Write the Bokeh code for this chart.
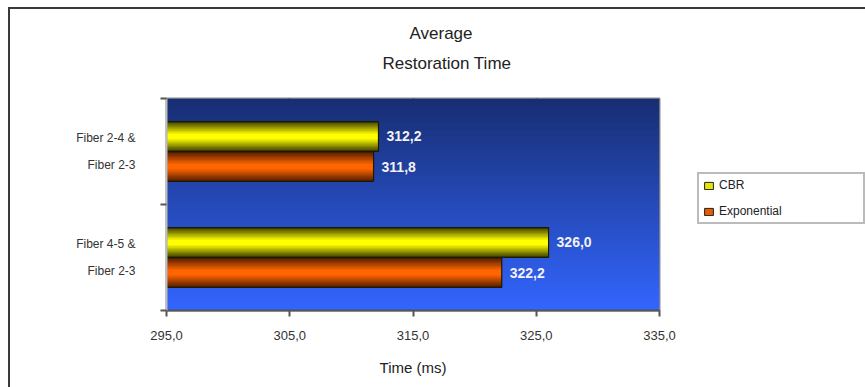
import numpy as np
from bokeh.plotting import figure
from bokeh.models import FixedTicker, Legend, LegendItem, Title, ColumnDataSource
from bokeh.core.properties import value
from bokeh.embed import file_html
from bokeh.resources import INLINE

# --- data -------------------------------------------------------------
categories = ["Fiber 2-4 &\nFiber 2-3", "Fiber 4-5 &\nFiber 2-3"]
cbr = [312.2, 326.0]
exponential = [311.8, 322.2]
x_ticks = [295, 305, 315, 325, 335]
series_names = ["CBR", "Exponential"]

FONT = "Liberation Sans"
X0, X1 = 295, 335

p = figure(frame_width=493, frame_height=212,
           output_backend="svg", toolbar_location=None,
           x_range=(X0, X1), y_range=(0, 2),
           min_border_left=166, min_border_right=206,
           min_border_top=98, min_border_bottom=77,
           background_fill_color="white", border_fill_color=None)
p.outline_line_color = "#8c8c8c"
p.outline_line_width = 2

# outer frame rule along the top and left edges, painted behind the canvas
RULE = "linear-gradient(#3a3a3a, #3a3a3a)"
p.styles = {
    "background": (f"{RULE} 8px 7px / 100% 2px no-repeat, "
                   f"{RULE} 8px 7px / 2px 100% no-repeat, white"),
    "overflow": "hidden",
}

# vertical blue gradient behind the bars
n = 200
t = np.linspace(0, 1, n)[:, None]  # 0 = bottom, 1 = top
bottom_c = np.array([51, 102, 255])
top_c = np.array([24, 46, 115])
rgb = (bottom_c * (1 - t) + top_c * t).astype(np.uint32)
img = np.empty((n, 1), dtype=np.uint32)
view = img.view(dtype=np.uint8).reshape((n, 1, 4))
view[:, :, 0] = rgb[:, 0:1]
view[:, :, 1] = rgb[:, 1:2]
view[:, :, 2] = rgb[:, 2:3]
view[:, :, 3] = 255
p.image_rgba(image=[img], x=X0, y=0, dw=X1 - X0, dh=2)

# grid
p.xgrid.ticker = FixedTicker(ticks=x_ticks)
p.xgrid.grid_line_color = "#0e1a45"
p.xgrid.grid_line_width = 2
p.ygrid.grid_line_color = None

# category positions (top category first)
n_cat = len(categories)
centers = [n_cat - i - 0.5 for i in range(n_cat)]
bar_h = 0.28
off = 0.142


def shaded_bars(vals, ys, edge, mid):
    """Cylinder-like bars: nested strips, darker toward the edges."""
    edge = np.array(edge, float)
    mid = np.array(mid, float)
    steps = 10
    for k in range(steps):
        f = k / (steps - 1)
        c = edge * (1 - f) + mid * f
        col = "#%02x%02x%02x" % tuple(int(round(v)) for v in c)
        h = bar_h * (1 - 0.9 * k / steps)
        p.hbar(y=ys, left=X0, right=vals, height=h, fill_color=col,
               line_color=None)
    p.hbar(y=ys, left=X0, right=vals, height=bar_h, fill_color=None,
           line_color="#1a1a00", line_width=1.2)


y_cbr = [c + off for c in centers]
y_exp = [c - off for c in centers]
shaded_bars(cbr, y_cbr, (70, 70, 0), (255, 255, 0))
shaded_bars(exponential, y_exp, (90, 30, 0), (255, 102, 0))

# legend swatches (flat colour with a dark edge)
r_cbr = p.hbar(y=[0], left=X0, right=X0, height=0, fill_color="#e6e600",
               line_color="#222222")
r_exp = p.hbar(y=[0], left=X0, right=X0, height=0, fill_color="#e65c00",
               line_color="#222222")


def fmt(v):
    return f"{v:.1f}".replace(".", ",")


# value labels
lab = ColumnDataSource(dict(
    x=cbr + exponential,
    y=y_cbr + y_exp,
    t=[fmt(v) for v in cbr + exponential],
))
p.text(x="x", y="y", text="t", source=lab, x_offset=8,
       text_color="#f2f2f2", text_font=value(FONT), text_font_size="14px",
       text_font_style="bold", text_baseline="middle", text_align="left")

# x axis
p.xaxis.ticker = FixedTicker(ticks=x_ticks)
p.xaxis.major_label_overrides = {v: fmt(v) for v in x_ticks}
p.xaxis.axis_label = "Time (ms)"
p.xaxis.axis_label_text_font = FONT
p.xaxis.axis_label_text_font_style = "normal"
p.xaxis.axis_label_text_font_size = "15px"
p.xaxis.axis_label_text_color = "#222222"
p.xaxis.axis_label_standoff = 16
p.xaxis.major_label_text_font = FONT
p.xaxis.major_label_text_font_size = "13px"
p.xaxis.major_label_text_color = "#333333"
p.xaxis.major_label_standoff = 14
p.xaxis.axis_line_color = "#555555"
p.xaxis.axis_line_width = 2
p.xaxis.major_tick_line_color = "#555555"
p.xaxis.major_tick_line_width = 2
p.xaxis.major_tick_in = 0
p.xaxis.major_tick_out = 6
p.xaxis.minor_tick_line_color = None

# y axis: category names at band centres, ticks at band edges
p.yaxis.ticker = FixedTicker(ticks=centers, minor_ticks=[0, 1, 2])
p.yaxis.major_label_overrides = {c: categories[i] for i, c in enumerate(centers)}
p.yaxis.major_label_text_font = FONT
p.yaxis.major_label_text_font_size = "12px"
p.yaxis.major_label_text_color = "#333333"
p.yaxis.major_label_text_line_height = 1.9
p.yaxis.major_label_standoff = 25
p.yaxis.major_tick_line_color = None
p.yaxis.major_tick_out = 0
p.yaxis.major_tick_in = 0
p.yaxis.minor_tick_line_color = "#555555"
p.yaxis.minor_tick_line_width = 2
p.yaxis.minor_tick_in = 0
p.yaxis.minor_tick_out = 6
p.yaxis.axis_line_color = "#bdbdbd"
p.yaxis.axis_line_width = 2

# two-line title, lifted clear of the plot area by an empty spacer line
p.title = None
title_lines = [(" ", 0, 3), ("Restoration Time", 216, 4), ("Average", 243, 14)]
for txt, dx, gap in title_lines:
    p.add_layout(Title(text=txt, align="left", offset=dx,
                       text_font=FONT, text_font_size="17px",
                       text_font_style="normal", text_color="#222222",
                       standoff=gap), "above")

# legend to the right of the plot area
legend = Legend(items=[LegendItem(label=series_names[0], renderers=[r_cbr]),
                       LegendItem(label=series_names[1], renderers=[r_exp])],
                location=(38, 86), orientation="vertical",
                label_text_font=FONT, label_text_font_size="12px",
                label_text_color="#222222", label_width=140,
                glyph_width=11, glyph_height=9, spacing=12,
                padding=4, margin=0,
                border_line_color="#777777", border_line_width=2,
                background_fill_color="white")
p.add_layout(legend, "right")

open("out.html", "w").write(file_html(p, INLINE))
